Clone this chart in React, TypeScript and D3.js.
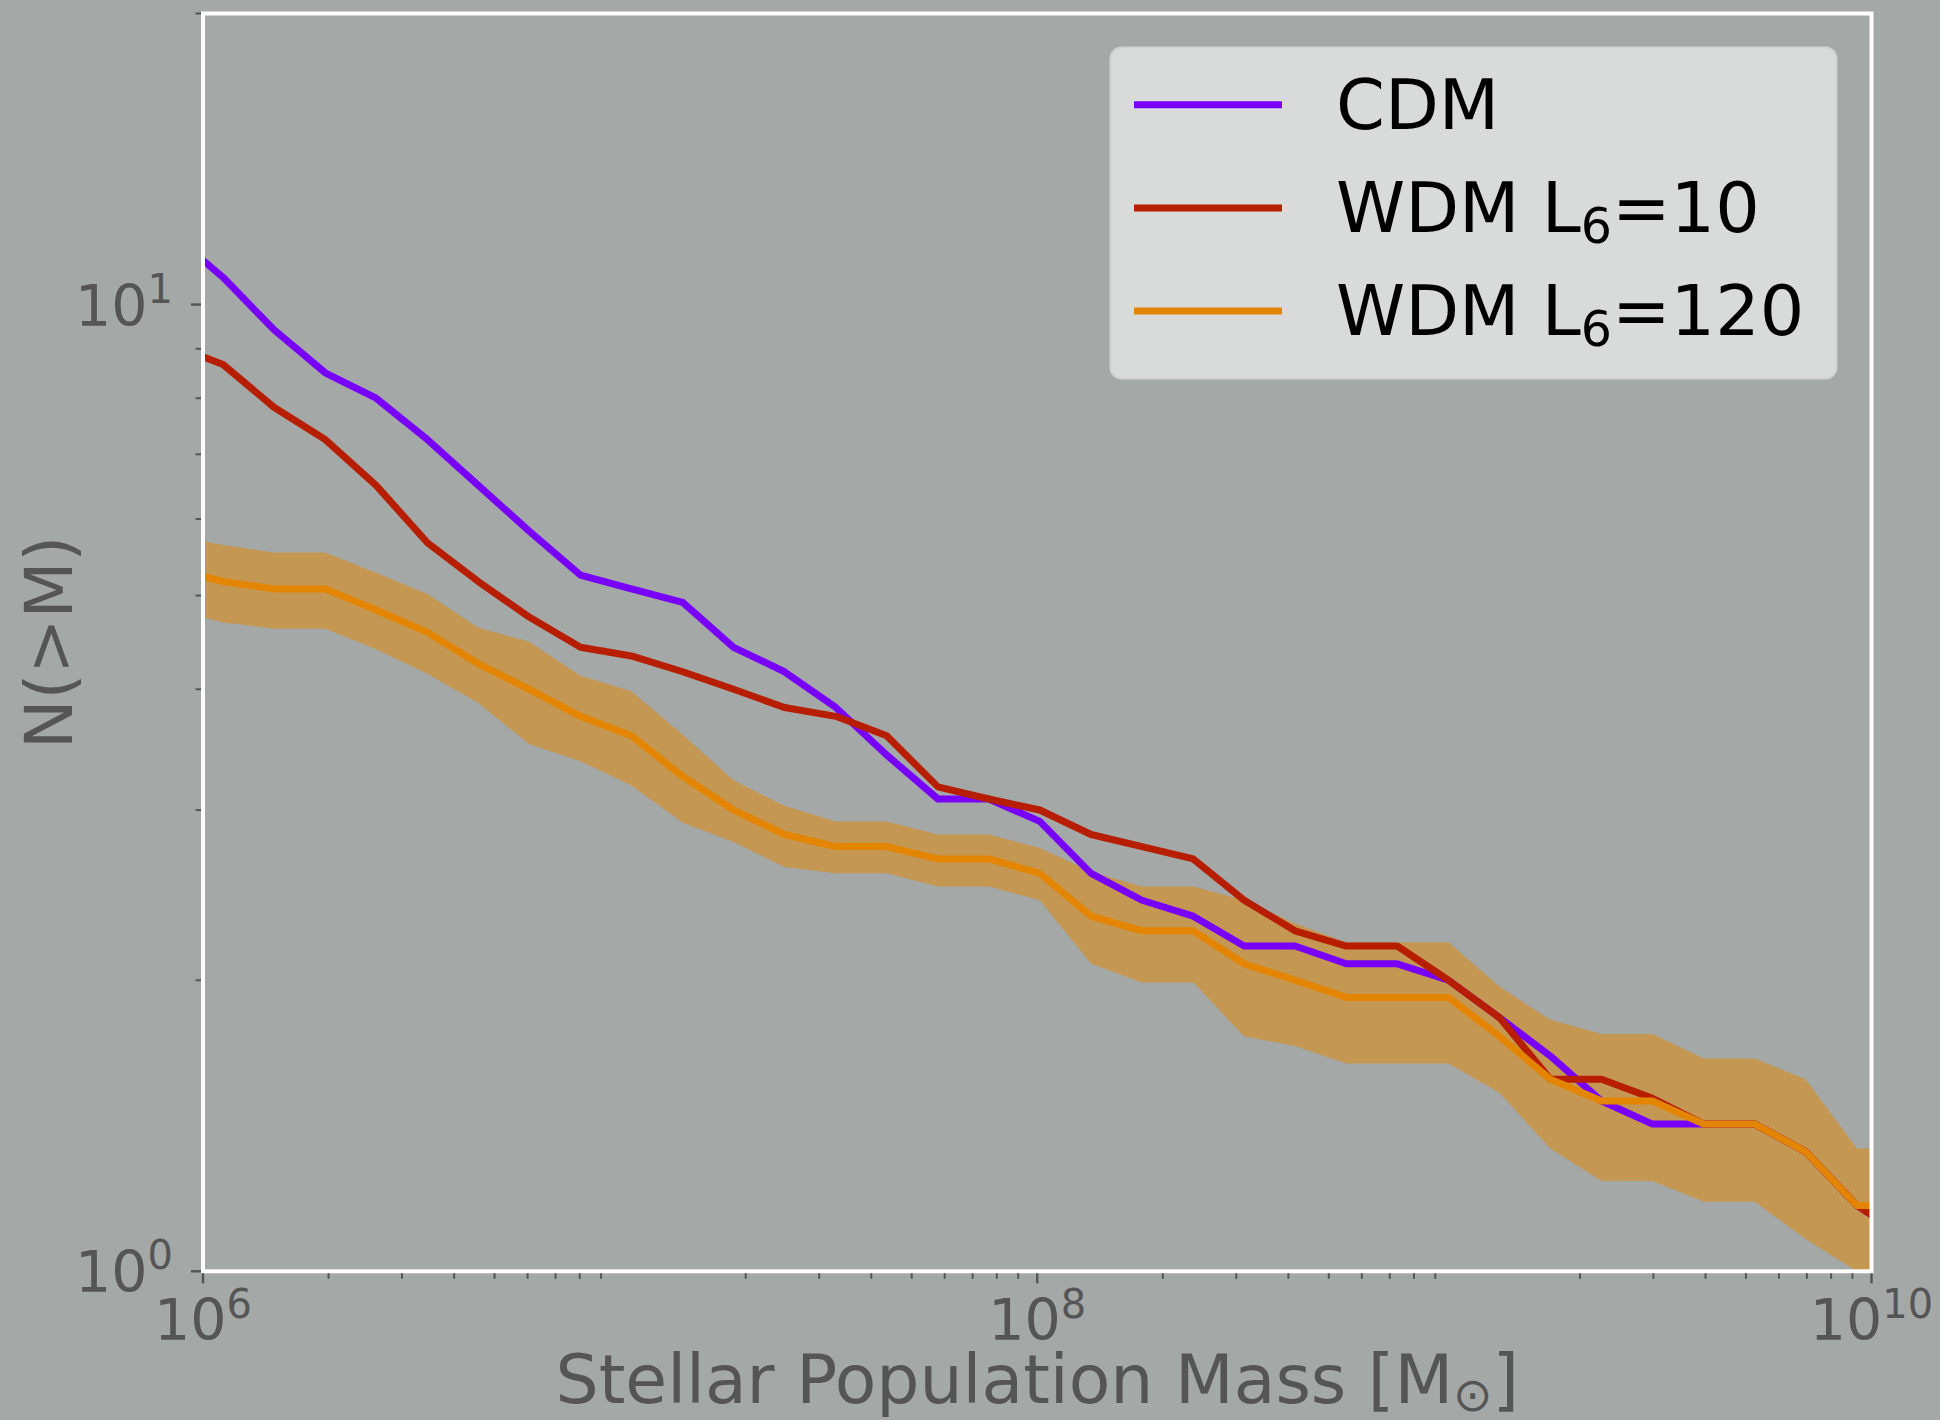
import React from "react";
import * as d3 from "d3";

// log10 of stellar population mass at each sample point
const logMass = [
  5.926, 6.048, 6.170, 6.293, 6.415, 6.538, 6.660, 6.782, 6.905, 7.027,
  7.150, 7.272, 7.394, 7.517, 7.639, 7.762, 7.884, 8.006, 8.129, 8.251,
  8.374, 8.496, 8.618, 8.741, 8.863, 8.986, 9.108, 9.230, 9.353, 9.475,
  9.598, 9.720, 9.842, 9.965, 10.087,
];

// N(>M) for each model
const cdm = [
  11.83, 10.67, 9.42, 8.5, 8.0, 7.25, 6.5, 5.83, 5.25, 5.08,
  4.92, 4.42, 4.17, 3.83, 3.42, 3.08, 3.08, 2.92, 2.58, 2.42,
  2.33, 2.17, 2.17, 2.08, 2.08, 2.0, 1.83, 1.67, 1.5, 1.42,
  1.42, 1.42, 1.33, 1.17, 1.08,
];
const wdm10 = [
  9.08, 8.67, 7.83, 7.25, 6.5, 5.67, 5.17, 4.75, 4.42, 4.33,
  4.17, 4.0, 3.83, 3.75, 3.58, 3.17, 3.08, 3.0, 2.83, 2.75,
  2.67, 2.42, 2.25, 2.17, 2.17, 2.0, 1.83, 1.58, 1.58, 1.51,
  1.42, 1.42, 1.33, 1.17, 1.08,
];
const wdm120 = [
  5.33, 5.17, 5.08, 5.08, 4.83, 4.58, 4.25, 4.0, 3.75, 3.58,
  3.25, 3.0, 2.83, 2.75, 2.75, 2.67, 2.67, 2.58, 2.33, 2.25,
  2.25, 2.08, 2.0, 1.92, 1.92, 1.92, 1.75, 1.58, 1.5, 1.5,
  1.42, 1.42, 1.33, 1.17, 1.17,
];
const wdm120Hi = [
  5.78, 5.64, 5.54, 5.54, 5.28, 5.02, 4.63, 4.48, 4.13, 3.98,
  3.59, 3.22, 3.03, 2.92, 2.92, 2.83, 2.83, 2.74, 2.59, 2.5,
  2.5, 2.42, 2.29, 2.19, 2.19, 2.19, 1.97, 1.82, 1.76, 1.76,
  1.66, 1.66, 1.58, 1.34, 1.34,
];
const wdm120Lo = [
  4.85, 4.69, 4.62, 4.62, 4.4, 4.15, 3.87, 3.51, 3.37, 3.18,
  2.91, 2.78, 2.62, 2.58, 2.58, 2.5, 2.5, 2.42, 2.08, 1.99,
  1.99, 1.75, 1.71, 1.64, 1.64, 1.64, 1.53, 1.34, 1.24, 1.24,
  1.18, 1.18, 1.08, 1.0, 0.92,
];

const seriesNames = ["CDM", "WDM L", "WDM L"];
const seriesSub = ["", "6", "6"];
const seriesTail = ["", "=10", "=120"];
const seriesColors = ["#7800f8", "#b71e00", "#e48500"];

// tick exponents and minor multipliers
const xMajorExp = [6, 8, 10];
const xMinorDecades = [6, 7, 8, 9];
const yMajorExp = [0, 1];
const yMinorDecades = [0, 1];
const minorSubs = [2, 3, 4, 5, 6, 7, 8, 9];

const W = 1940;
const H = 1420;
const left = 203;
const right = 1871.5;
const top = 13.5;
const bottom = 1271.3;
const bg = "#a4a8a7";
const tickColor = "#555555";

export default function App() {
  const x = d3.scaleLog().domain([1e6, 1e10]).range([left, right]);
  const y = d3.scaleLog().domain([1, 20]).range([bottom, top]);
  const mass = logMass.map(v => Math.pow(10, v));

  const lineGen = d3.line<number>()
    .x((_, i) => x(mass[i]))
    .y(d => y(d));

  const band = d3.area<number>()
    .x((_, i) => x(mass[i]))
    .y0((_, i) => y(wdm120Lo[i]))
    .y1(d => y(d))(wdm120Hi);

  const lines = [cdm, wdm10, wdm120];

  const xMinor = xMinorDecades.flatMap(e => minorSubs.map(s => s * Math.pow(10, e)));
  const yMinor = yMinorDecades
    .flatMap(e => minorSubs.map(s => s * Math.pow(10, e)))
    .filter(v => v <= 20);

  return (
    <svg
      width={W}
      height={H}
      style={{ position: "absolute", left: 0, top: 0, display: "block" }}
      fontFamily="DejaVu Sans"
    >
      <defs>
        <clipPath id="plotClip">
          <rect x={left} y={top} width={right - left} height={bottom - top} />
        </clipPath>
      </defs>
      <rect x={0} y={0} width={W} height={H} fill={bg} />

      {/* band and lines */}
      <g clipPath="url(#plotClip)">
        <path d={band || ""} fill={seriesColors[2]} fillOpacity={0.5} stroke="none" />
        {lines.map((vals, i) => (
          <path
            key={i}
            d={lineGen(vals) || ""}
            fill="none"
            stroke={seriesColors[i]}
            strokeWidth={7}
            strokeLinejoin="round"
          />
        ))}
      </g>

      {/* spines */}
      <rect
        x={left}
        y={top}
        width={right - left}
        height={bottom - top}
        fill="none"
        stroke="#ffffff"
        strokeWidth={4}
      />

      {/* x ticks */}
      {xMajorExp.map(e => (
        <line key={"xM" + e} x1={x(Math.pow(10, e))} x2={x(Math.pow(10, e))} y1={bottom + 2} y2={bottom + 12}
          stroke={tickColor} strokeWidth={2.4} />
      ))}
      {xMinor.map(v => (
        <line key={"xm" + v} x1={x(v)} x2={x(v)} y1={bottom + 2} y2={bottom + 7.5}
          stroke={tickColor} strokeWidth={2} />
      ))}
      {xMajorExp.map(e => (
        <text key={"xl" + e} x={x(Math.pow(10, e))} y={1340} textAnchor="middle" fontSize={57} fill={tickColor}>
          10<tspan dy={-22} fontSize={40}>{e}</tspan>
        </text>
      ))}

      {/* y ticks */}
      {yMajorExp.map(e => (
        <line key={"yM" + e} x1={left - 12} x2={left - 2} y1={y(Math.pow(10, e))} y2={y(Math.pow(10, e))}
          stroke={tickColor} strokeWidth={2.4} />
      ))}
      {yMinor.map(v => (
        <line key={"ym" + v} x1={left - 7.5} x2={left - 2} y1={y(v)} y2={y(v)}
          stroke={tickColor} strokeWidth={2} />
      ))}
      {yMajorExp.map(e => (
        <text key={"yl" + e} x={173} y={y(Math.pow(10, e)) + 21} textAnchor="end" fontSize={57} fill={tickColor}>
          10<tspan dy={-23} fontSize={40}>{e}</tspan>
        </text>
      ))}

      {/* axis labels */}
      <text x={(left + right) / 2} y={1403} textAnchor="middle" fontSize={68} fill={tickColor}>
        Stellar Population Mass [M<tspan dy={8} fontSize={47}>⊙</tspan><tspan dy={-8}>]</tspan>
      </text>
      <text
        transform={`translate(71.5, ${(top + bottom) / 2}) rotate(-90)`}
        textAnchor="middle"
        fontSize={66}
        fill={tickColor}
      >
        N(&gt;M)
      </text>

      {/* legend */}
      <rect x={1110.5} y={47.5} width={726} height={331} rx={11} fill="#d9dbda" stroke="#cfd2d1" strokeWidth={2} />
      {seriesNames.map((name, i) => (
        <g key={"lg" + i}>
          <line x1={1134} x2={1282} y1={104.7 + i * 103.2} y2={104.7 + i * 103.2}
            stroke={seriesColors[i]} strokeWidth={7} />
          <text x={1336} y={129.3 + i * 103} fontSize={70} fill="#000000">
            {name}
            {seriesSub[i] && <tspan dy={11} fontSize={49}>{seriesSub[i]}</tspan>}
            {seriesTail[i] && <tspan dy={-11}>{seriesTail[i]}</tspan>}
          </text>
        </g>
      ))}
    </svg>
  );
}
